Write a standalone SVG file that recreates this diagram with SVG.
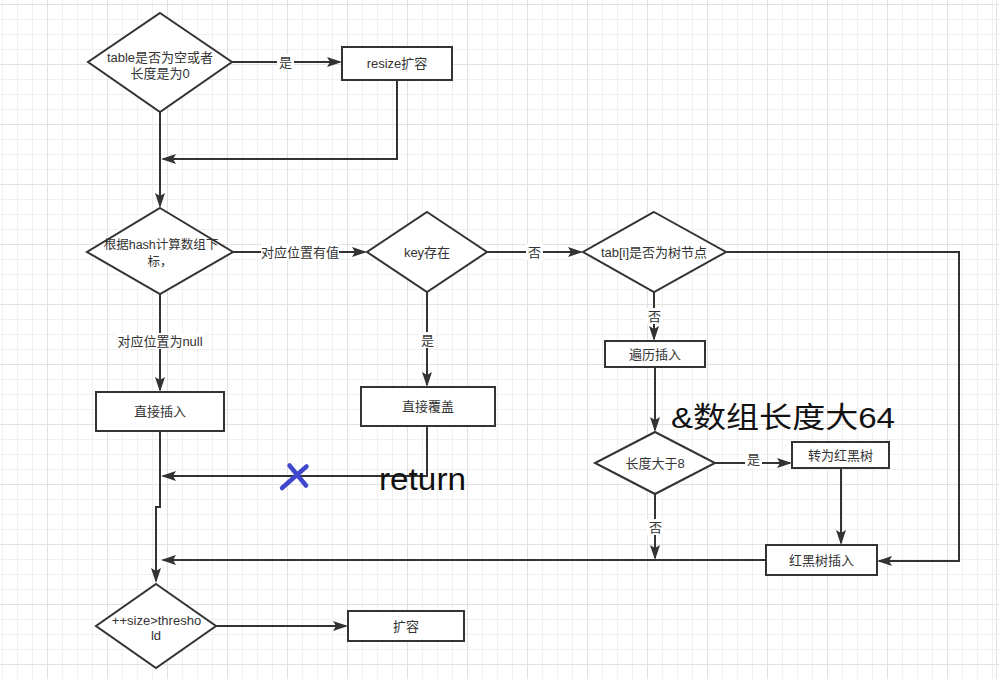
<svg xmlns="http://www.w3.org/2000/svg" width="999" height="679" viewBox="0 0 999 679">
  <defs>
    <style>
      .shape { fill: #ffffff; stroke: #333333; stroke-width: 2; }
      .edge { fill: none; stroke: #333333; stroke-width: 2; }
      .arrow { marker-end: url(#arrowhead); }
      .label { font-family: "Liberation Sans", "Noto Sans CJK SC", sans-serif; font-size: 13px; fill: #333333; text-anchor: middle; }
      .lbg { fill: #ffffff; }
      .note { font-family: "Liberation Sans", "Noto Sans CJK SC", sans-serif; fill: #111111; }
    </style>
    <!-- drawing grid: 15px cells, heavier line every 4 cells -->
    <pattern id="grid" patternUnits="userSpaceOnUse" x="-13" y="4" width="60" height="60">
      <rect x="15" y="0" width="1" height="60" fill="#f0f0f0"/>
      <rect x="30" y="0" width="1" height="60" fill="#f0f0f0"/>
      <rect x="45" y="0" width="1" height="60" fill="#f0f0f0"/>
      <rect x="0" y="15" width="60" height="1" fill="#f0f0f0"/>
      <rect x="0" y="30" width="60" height="1" fill="#f0f0f0"/>
      <rect x="0" y="45" width="60" height="1" fill="#f0f0f0"/>
      <rect x="0" y="0" width="1" height="60" fill="#e2e2e2"/>
      <rect x="0" y="0" width="60" height="1" fill="#e2e2e2"/>
    </pattern>
    <marker id="arrowhead" markerUnits="userSpaceOnUse" viewBox="0 0 15 10" markerWidth="15" markerHeight="10" refX="13" refY="5" orient="auto">
      <path d="M0,0 L15,5 L0,10 L3,5 Z" fill="#333333"/>
    </marker>
  </defs>

  <rect x="0" y="0" width="999" height="679" fill="#ffffff"/>
  <rect x="0" y="0" width="999" height="679" fill="url(#grid)"/>
  <rect x="996" y="0" width="1" height="679" fill="#e4e4e4"/>

  <!-- connectors -->
  <g id="connectors">
    <path class="edge arrow" d="M160,112 L160,206"/>
    <path class="edge arrow" d="M232,62 L340,62"/>
    <path class="edge arrow" d="M397,80 L397,159 L163,159"/>
    <path class="edge arrow" d="M233,252 L365,252"/>
    <path class="edge arrow" d="M160,294 L160,390"/>
    <path class="edge arrow" d="M487,252 L581,252"/>
    <path class="edge arrow" d="M427,292 L427,385"/>
    <path class="edge arrow" d="M427,426 L427,476 L163,476"/>
    <path class="edge arrow" d="M160,431 L160,507 L156,507 L156,581"/>
    <path class="edge arrow" d="M726,252 L959,252 L959,561 L879,561"/>
    <path class="edge arrow" d="M654,292 L654,339"/>
    <path class="edge arrow" d="M655,367 L655,430"/>
    <path class="edge arrow" d="M715,463 L790,463"/>
    <path class="edge arrow" d="M841,468 L841,543"/>
    <path class="edge arrow" d="M655,494 L655,558"/>
    <path class="edge arrow" d="M766,560 L163,560"/>
    <path class="edge arrow" d="M216,626 L346,626"/>

    <!-- edge labels -->
    <rect class="lbg" x="277" y="54" width="17" height="16"/>
    <text class="label" x="285.5" y="67">是</text>
    <rect class="lbg" x="261" y="244" width="78" height="16"/>
    <text class="label" x="300" y="257">对应位置有值</text>
    <rect class="lbg" x="116" y="333" width="88" height="16"/>
    <text class="label" x="160" y="346">对应位置为null</text>
    <rect class="lbg" x="526" y="244" width="17" height="16"/>
    <text class="label" x="534.5" y="257">否</text>
    <rect class="lbg" x="419" y="332" width="17" height="16"/>
    <text class="label" x="427.5" y="345">是</text>
    <rect class="lbg" x="646" y="308" width="17" height="16"/>
    <text class="label" x="654.5" y="321">否</text>
    <rect class="lbg" x="745" y="452" width="17" height="16"/>
    <text class="label" x="753.5" y="464">是</text>
    <rect class="lbg" x="647" y="519" width="17" height="16"/>
    <text class="label" x="655.5" y="532">否</text>
  </g>

  <g id="check-table">
    <polygon class="shape" points="160,13 232,62 160,112 88,62"/>
    <text class="label" x="160" y="62">table是否为空或者</text>
    <text class="label" x="160" y="77.5">长度是为0</text>
  </g>

  <g id="resize">
    <rect class="shape" x="342" y="47" width="110" height="33"/>
    <text class="label" x="397" y="68">resize扩容</text>
  </g>

  <g id="hash-index">
    <polygon class="shape" points="160,208 233,252 160,294 87,252"/>
    <text class="label" x="161" y="249" style="font-size:12.5px">根据hash计算数组下</text>
    <text class="label" x="160" y="265.5" style="font-size:12.5px">标，</text>
  </g>

  <g id="key-exists">
    <polygon class="shape" points="427,212 487,252 427,292 367,252"/>
    <text class="label" x="427" y="256.5">key存在</text>
  </g>

  <g id="is-tree-node">
    <polygon class="shape" points="654,212 726,252 654,292 583,252"/>
    <text class="label" x="654" y="256.5">tab[i]是否为树节点</text>
  </g>

  <g id="insert-direct">
    <rect class="shape" x="96" y="392" width="128" height="39"/>
    <text class="label" x="160" y="416">直接插入</text>
  </g>

  <g id="overwrite">
    <rect class="shape" x="361" y="387" width="134" height="39"/>
    <text class="label" x="428" y="411">直接覆盖</text>
  </g>

  <g id="list-insert">
    <rect class="shape" x="605" y="341" width="100" height="26"/>
    <text class="label" x="655" y="358.5">遍历插入</text>
  </g>

  <g id="length-check">
    <polygon class="shape" points="655,432 715,463 655,494 595,463"/>
    <text class="label" x="655" y="467.5">长度大于8</text>
  </g>

  <g id="to-tree">
    <rect class="shape" x="792" y="442" width="97" height="26"/>
    <text class="label" x="840.5" y="459.5">转为红黑树</text>
  </g>

  <g id="tree-insert">
    <rect class="shape" x="766" y="545" width="111" height="30"/>
    <text class="label" x="821.5" y="564.5">红黑树插入</text>
  </g>

  <g id="size-check">
    <polygon class="shape" points="156,584 216,626 156,668 96,626"/>
    <text class="label" x="156.5" y="624.5">++size&gt;thresho</text>
    <text class="label" x="156" y="640">ld</text>
  </g>

  <g id="grow">
    <rect class="shape" x="348" y="611" width="116" height="30"/>
    <text class="label" x="406" y="630.5">扩容</text>
  </g>

  <!-- hand annotations -->
  <g id="annotations">
    <text class="note" x="671" y="428" style="font-size:29px" textLength="224" lengthAdjust="spacingAndGlyphs">&amp;数组长度大64</text>
    <text class="note" x="379" y="490" style="font-size:31px" textLength="87" lengthAdjust="spacingAndGlyphs">return</text>
    <path d="M289.5,465.5 L306,485.5 M282,488 L306.5,466.5" fill="none" stroke="#3f48cc" stroke-width="4.5" stroke-linecap="round"/>
  </g>
</svg>
